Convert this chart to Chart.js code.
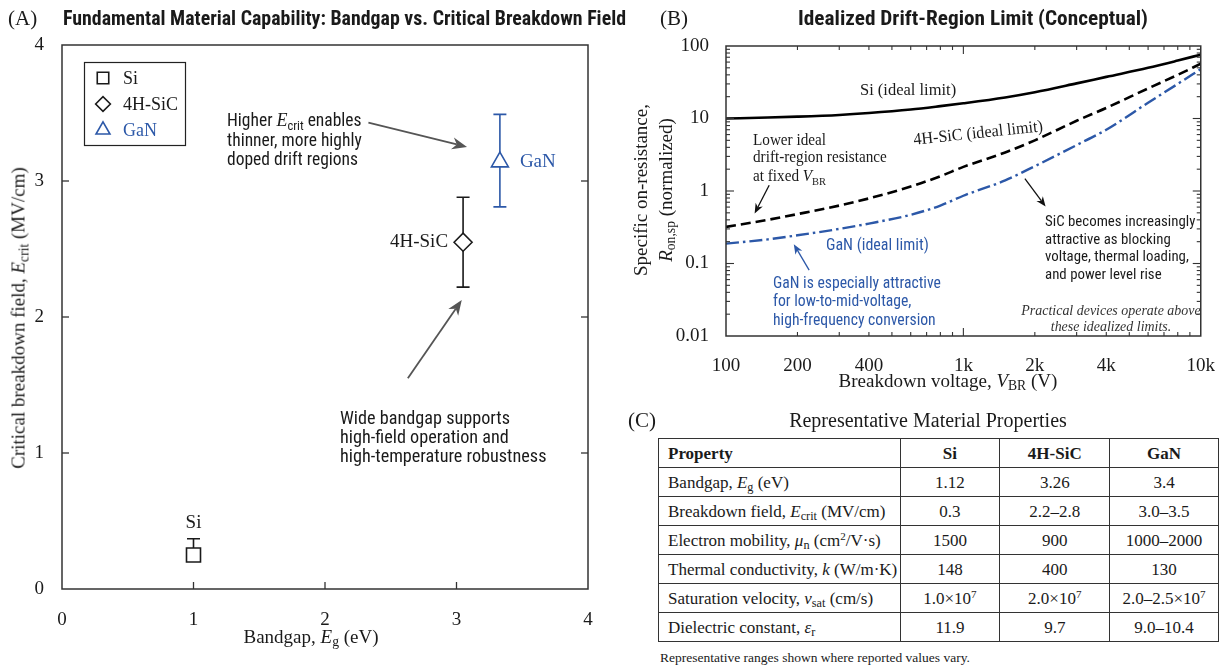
<!DOCTYPE html>
<html><head><meta charset="utf-8">
<script src="https://cdn.jsdelivr.net/npm/chart.js@4.4.1/dist/chart.umd.min.js"></script>
<style>
html,body{margin:0;padding:0;background:#fff}
body{width:1226px;height:666px;position:relative;overflow:hidden;color:#1a1a1a;font-family:"Liberation Serif","Times New Roman",serif}
.abs{position:absolute;white-space:nowrap;line-height:1}
.tt{font-family:"Liberation Sans Narrow","Roboto Condensed","Roboto",sans-serif;font-weight:bold;font-size:21px;transform-origin:left center}
.pl{font-size:21px}
.ax{font-size:19px}
.rot{transform:translate(-50%,-50%) rotate(-90deg)}
.ctr{transform:translate(-50%,-50%)}
canvas{position:absolute}
table{position:absolute;left:658px;top:438px;width:561px;border-collapse:collapse;font-size:17px;line-height:1}
tr{height:29px}
td,th{border:1.5px solid #333;padding:0;text-align:center;vertical-align:middle}
td:first-child,th:first-child{text-align:left;padding-left:9px}
sub{font-size:72%;vertical-align:-0.28em;line-height:0}
sup{font-size:65%;vertical-align:0.5em;line-height:0}
i{font-style:italic}
</style>
</head>
<body>
<canvas id="cA" width="615" height="666" style="left:0;top:0;width:615px;height:666px"></canvas>
<canvas id="cB" width="611" height="400" style="left:615px;top:0;width:611px;height:400px"></canvas>

<div class="abs pl" style="left:8px;top:8px">(A)</div>
<div class="abs tt" id="tA" data-w="563" style="left:63px;top:8px">Fundamental Material Capability: Bandgap vs. Critical Breakdown Field</div>
<div class="abs ax rot" style="left:18px;top:318px">Critical breakdown field, <i>E</i><sub>crit</sub> (MV/cm)</div>
<div class="abs ax ctr" style="left:311px;top:636px">Bandgap, <i>E</i><sub>g</sub> (eV)</div>

<div class="abs pl" style="left:660px;top:8px">(B)</div>
<div class="abs tt" id="tB" data-w="350" style="left:798px;top:8px">Idealized Drift-Region Limit (Conceptual)</div>
<div class="abs ax rot" style="left:640px;top:190px">Specific on-resistance,</div>
<div class="abs ax rot" style="left:665px;top:190px"><i>R</i><sub>on,sp</sub> (normalized)</div>
<div class="abs ax ctr" style="left:948px;top:380px">Breakdown voltage, <i>V</i><sub>BR</sub> (V)</div>

<div class="abs pl" style="left:628px;top:410px">(C)</div>
<div class="abs ctr" style="left:928px;top:420px;font-size:20px">Representative Material Properties</div>
<table id="tbl"></table>
<div class="abs" style="left:660px;top:651px;font-size:13.5px">Representative ranges shown where reported values vary.</div>

<script>
// ---------------- Panel A data ----------------
const materials = ['Si', '4H-SiC', 'GaN'];
const bandgapX  = [1.00, 3.05, 3.33];
const fieldY    = [0.25, 2.55, 3.14];
const fieldLow  = [0.22, 2.22, 2.81];
const fieldHigh = [0.37, 2.88, 3.49];
const axisATicks = [0, 1, 2, 3, 4];

// ---------------- Panel B data ----------------
const voltage = [100, 150, 200, 300, 400, 600, 800, 1000, 1500, 2000, 3000, 4000, 6000, 8000, 10000];
const ronSi   = [10.0, 10.3, 10.6, 11.2, 11.9, 13.3, 14.8, 16.2, 19.5, 23.0, 30.5, 37.5, 50.0, 63.0, 76.0];
const ronSiC  = [0.32, 0.40, 0.48, 0.63, 0.79, 1.15, 1.6, 2.15, 3.4, 5.0, 9.3, 14.0, 26, 40, 57];
const ronGaN  = [0.188, 0.215, 0.245, 0.30, 0.355, 0.47, 0.63, 0.86, 1.4, 2.2, 4.3, 7.0, 16.5, 30, 48];
const voltageTicks = [100, 200, 400, 1000, 2000, 4000, 10000];
const voltageTickLabels = ['100', '200', '400', '1k', '2k', '4k', '10k'];
const ronTicks = [0.01, 0.1, 1, 10, 100];
const ronTickLabels = ['0.01', '0.1', '1', '10', '100'];

// ---------------- Panel C data ----------------
const tableHeader = ['Property', 'Si', '4H-SiC', 'GaN'];
const tableProps = ['Bandgap, <i>E</i><sub>g</sub> (eV)', 'Breakdown field, <i>E</i><sub>crit</sub> (MV/cm)',
  'Electron mobility, <i>&mu;</i><sub>n</sub> (cm<sup>2</sup>/V&middot;s)', 'Thermal conductivity, <i>k</i> (W/m&middot;K)',
  'Saturation velocity, <i>v</i><sub>sat</sub> (cm/s)', 'Dielectric constant, <i>&epsilon;</i><sub>r</sub>'];
const tableSi  = ['1.12', '0.3', '1500', '148', '1.0&times;10<sup>7</sup>', '11.9'];
const tableSiC = ['3.26', '2.2&ndash;2.8', '900', '400', '2.0&times;10<sup>7</sup>', '9.7'];
const tableGaN = ['3.4', '3.0&ndash;3.5', '1000&ndash;2000', '130', '2.0&ndash;2.5&times;10<sup>7</sup>', '9.0&ndash;10.4'];

// ---------------- styles ----------------
const SERIF = '"Liberation Serif","Times New Roman",serif';
const SANS = '"Liberation Sans Narrow","Roboto Condensed","Roboto","Liberation Sans",sans-serif';
const BLUE = '#2c58a8';
const INK = '#1a1a1a';
const matStyle = {
  'Si': {shape: 'rect', color: INK, r: 9.9},
  '4H-SiC': {shape: 'rectRot', color: INK, r: 9},
  'GaN': {shape: 'triangle', color: BLUE, r: 9.8}
};

// table
(function () {
  const t = document.getElementById('tbl');
  let h = '<colgroup><col style="width:242px"><col style="width:100px"><col style="width:110px"><col style="width:109px"></colgroup>';
  h += '<tr>' + tableHeader.map(c => '<th>' + c + '</th>').join('') + '</tr>';
  tableProps.forEach((p, i) => {
    h += '<tr><td>' + p + '</td><td>' + tableSi[i] + '</td><td>' + tableSiC[i] + '</td><td>' + tableGaN[i] + '</td></tr>';
  });
  t.innerHTML = h;
})();

function rich(ctx, segs, x, y, align, sx) {
  sx = sx || 1;
  let w = 0;
  segs.forEach(s => { ctx.font = s.f; w += ctx.measureText(s.t).width; });
  ctx.save();
  ctx.translate(x, y);
  ctx.scale(sx, 1);
  let cx = align === 'center' ? -w / 2 : align === 'right' ? -w : 0;
  ctx.textBaseline = 'alphabetic'; ctx.textAlign = 'left';
  segs.forEach(s => { ctx.font = s.f; if (s.c) ctx.fillStyle = s.c; ctx.fillText(s.t, cx, s.dy || 0); cx += ctx.measureText(s.t).width; });
  ctx.restore();
}
function arrow(ctx, x1, y1, x2, y2, color, lw, hl, hw) {
  const a = Math.atan2(y2 - y1, x2 - x1), c = Math.cos(a), s = Math.sin(a);
  ctx.save(); ctx.strokeStyle = color; ctx.fillStyle = color; ctx.lineWidth = lw;
  ctx.beginPath(); ctx.moveTo(x1, y1); ctx.lineTo(x2 - c * hl * 0.7, y2 - s * hl * 0.7); ctx.stroke();
  ctx.beginPath(); ctx.moveTo(x2, y2);
  ctx.lineTo(x2 - hl * c + hw * s, y2 - hl * s - hw * c);
  ctx.lineTo(x2 - hl * c * 0.7, y2 - hl * s * 0.7);
  ctx.lineTo(x2 - hl * c - hw * s, y2 - hl * s + hw * c);
  ctx.closePath(); ctx.fill(); ctx.restore();
}

// frame + inward ticks
const frameTicks = {
  id: 'frameTicks',
  afterDatasetsDraw(chart, args, o) {
    const {ctx, chartArea: a, scales} = chart;
    const xs = scales.x, ys = scales.y;
    const seg = (x1, y1, x2, y2) => { ctx.beginPath(); ctx.moveTo(x1, y1); ctx.lineTo(x2, y2); ctx.stroke(); };
    ctx.save();
    ctx.strokeStyle = o.color; ctx.lineWidth = o.lw;
    ctx.strokeRect(a.left, a.top, a.right - a.left, a.bottom - a.top);
    ctx.lineWidth = o.tlw;
    const xt = (vals, len) => vals.forEach(v => { const p = xs.getPixelForValue(v);
      if (p <= a.left + 1 || p >= a.right - 1) return;
      if (o.bottom) seg(p, a.bottom, p, a.bottom - len); if (o.top) seg(p, a.top, p, a.top + len); });
    const yt = (vals, len) => vals.forEach(v => { const p = ys.getPixelForValue(v);
      if (p <= a.top + 1 || p >= a.bottom - 1) return;
      if (o.left) seg(a.left, p, a.left + len, p); if (o.right) seg(a.right, p, a.right - len, p); });
    xt(o.xMajor || [], o.len); yt(o.yMajor || [], o.len);
    xt(o.xMinor || [], o.mlen); yt(o.yMinor || [], o.mlen);
    ctx.restore();
  }
};
function logMinor(lo, hi) {
  const out = [];
  for (let d = lo; d < hi; d *= 10) for (let k = 2; k <= 9; k++) out.push(d * k);
  return out;
}
function logMajor(lo, hi) { const out = []; for (let d = lo; d <= hi * 1.0001; d *= 10) out.push(d); return out; }

// ---------- Panel A ----------
const errorBars = {
  id: 'errorBars',
  beforeDatasetsDraw(chart) {
    const {ctx, scales: {x, y}} = chart;
    ctx.save();
    materials.forEach((m, i) => {
      const st = matStyle[m];
      const px = x.getPixelForValue(bandgapX[i]);
      const lo = y.getPixelForValue(fieldLow[i]), hi = y.getPixelForValue(fieldHigh[i]);
      ctx.strokeStyle = st.color; ctx.lineWidth = 1.6;
      ctx.beginPath(); ctx.moveTo(px, lo); ctx.lineTo(px, hi);
      ctx.moveTo(px - 6.5, lo); ctx.lineTo(px + 6.5, lo);
      ctx.moveTo(px - 6.5, hi); ctx.lineTo(px + 6.5, hi); ctx.stroke();
    });
    ctx.restore();
  }
};
const annotA = {
  id: 'annotA',
  afterDatasetsDraw(chart) {
    const {ctx, scales: {x, y}} = chart;
    const P = (a, b) => [x.getPixelForValue(a), y.getPixelForValue(b)];
    ctx.save();
    // legend
    ctx.strokeStyle = '#222'; ctx.lineWidth = 1.2;
    ctx.strokeRect(84.5, 62.5, 101, 83);
    materials.forEach((m, i) => {
      const st = matStyle[m];
      const yy = 78 + i * 26;
      ctx.fillStyle = '#fff'; ctx.strokeStyle = st.color; ctx.lineWidth = 1.6;
      Chart.helpers.drawPoint(ctx, {pointStyle: st.shape, radius: st.r * 0.82, borderWidth: 1.6, rotation: 0}, 103, yy);
      ctx.fillStyle = st.color;
      ctx.font = '18px ' + SERIF; ctx.textBaseline = 'middle'; ctx.textAlign = 'left';
      ctx.fillText(m, 123, yy + 1);
    });
    // point labels
    ctx.textBaseline = 'middle';
    ctx.font = '19px ' + SERIF;
    let p = P(bandgapX[0], fieldHigh[0]);
    ctx.fillStyle = INK; ctx.textAlign = 'center'; ctx.fillText(materials[0], p[0], p[1] - 16);
    p = P(bandgapX[1], fieldY[1]);
    ctx.textAlign = 'right'; ctx.fillText(materials[1], p[0] - 15, p[1]);
    p = P(bandgapX[2], fieldY[2]);
    ctx.fillStyle = BLUE; ctx.textAlign = 'left'; ctx.fillText(materials[2], p[0] + 20, p[1]);
    // annotation texts
    ctx.fillStyle = INK;
    const f = '17.5px ' + SANS;
    rich(ctx, [{t: 'Higher ', f}, {t: 'E', f: 'italic 18px ' + SERIF}, {t: 'crit', f: '12.5px ' + SANS, dy: 4}, {t: ' enables', f}], 227, 126, 'left');
    rich(ctx, [{t: 'thinner, more highly', f}], 227, 146, 'left');
    rich(ctx, [{t: 'doped drift regions', f}], 227, 165, 'left');
    rich(ctx, [{t: 'Wide bandgap supports', f}], 340, 424, 'left', 1.04);
    rich(ctx, [{t: 'high-field operation and', f}], 340, 443, 'left', 1.04);
    rich(ctx, [{t: 'high-temperature robustness', f}], 340, 462, 'left', 1.04);
    // arrows
    let t = P(2.33, 3.43), h = P(3.08, 3.25);
    arrow(ctx, t[0], t[1], h[0], h[1], '#555', 1.8, 15, 6);
    t = P(2.63, 1.55); h = P(3.04, 2.125);
    arrow(ctx, t[0], t[1], h[0], h[1], '#555', 1.8, 15, 6);
    ctx.restore();
  }
};

new Chart(document.getElementById('cA'), {
  type: 'scatter',
  data: {
    datasets: materials.map((m, i) => ({
      label: m,
      data: [{x: bandgapX[i], y: fieldY[i]}],
      pointStyle: matStyle[m].shape,
      pointRadius: matStyle[m].r,
      pointBorderWidth: 1.6,
      borderColor: matStyle[m].color,
      backgroundColor: '#fff',
      pointBackgroundColor: '#fff'
    }))
  },
  options: {
    responsive: false, animation: false, devicePixelRatio: 1,
    layout: {padding: {left: 24, top: 45, right: 27, bottom: 0}},
    plugins: {legend: {display: false}, tooltip: {enabled: false},
      frameTicks: {color: '#333', lw: 1.5, tlw: 1.3, len: 7, mlen: 0, bottom: true, left: true, right: true, top: false,
        xMajor: axisATicks, yMajor: axisATicks}},
    scales: {
      x: {type: 'linear', min: 0, max: 4, grid: {display: false}, border: {display: false},
        afterBuildTicks: s => { s.ticks = axisATicks.map(v => ({value: v})); },
        afterFit: s => { s.height = 77; },
        ticks: {font: {family: SERIF, size: 19}, color: INK, padding: 12, maxRotation: 0}},
      y: {type: 'linear', min: 0, max: 4, grid: {display: false}, border: {display: false},
        afterBuildTicks: s => { s.ticks = axisATicks.map(v => ({value: v})); },
        afterFit: s => { s.width = 38; },
        ticks: {font: {family: SERIF, size: 19}, color: INK, padding: 10}}
    }
  },
  plugins: [errorBars, frameTicks, annotA]
});

// ---------- Panel B ----------
const annotB = {
  id: 'annotB',
  afterDatasetsDraw(chart) {
    const {ctx, scales: {x, y}} = chart;
    const P = (v, r) => [x.getPixelForValue(v), y.getPixelForValue(r)];
    const ox = -615;
    ctx.save();
    ctx.fillStyle = INK;
    const fs = '17px ' + SERIF;
    rich(ctx, [{t: 'Si (ideal limit)', f: fs}], 860 + ox, 95, 'left', 0.97);
    ctx.save(); ctx.translate(978 + ox, 132); ctx.rotate(-6 * Math.PI / 180);
    rich(ctx, [{t: '4H-SiC (ideal limit)', f: fs}], 0, 6, 'center', 0.95);
    ctx.restore();
    const fs2 = '16px ' + SERIF;
    rich(ctx, [{t: 'Lower ideal', f: fs2}], 753 + ox, 145, 'left', 0.95);
    rich(ctx, [{t: 'drift-region resistance', f: fs2}], 753 + ox, 162, 'left', 0.95);
    rich(ctx, [{t: 'at fixed ', f: fs2}, {t: 'V', f: 'italic 16px ' + SERIF}, {t: 'BR', f: '11px ' + SERIF, dy: 4}], 753 + ox, 181, 'left', 0.95);
    let t = P(152, 1.2), h = P(132, 0.49);
    arrow(ctx, t[0], t[1], h[0], h[1], '#111', 1.3, 10, 4);
    // GaN
    ctx.fillStyle = BLUE;
    const fb = '16px ' + SANS;
    rich(ctx, [{t: 'GaN (ideal limit)', f: fb}], 826 + ox, 250, 'left');
    rich(ctx, [{t: 'GaN is especially attractive', f: fb}], 773 + ox, 288, 'left', 0.98);
    rich(ctx, [{t: 'for low-to-mid-voltage,', f: fb}], 773 + ox, 306, 'left', 0.98);
    rich(ctx, [{t: 'high-frequency conversion', f: fb}], 773 + ox, 324.5, 'left', 0.98);
    t = P(224, 0.081); h = P(193, 0.185);
    arrow(ctx, t[0], t[1], h[0], h[1], BLUE, 1.3, 10, 4);
    // SiC note
    ctx.fillStyle = INK;
    const fc = '15.5px ' + SANS;
    rich(ctx, [{t: 'SiC becomes increasingly', f: fc}], 1045 + ox, 226, 'left', 0.96);
    rich(ctx, [{t: 'attractive as blocking', f: fc}], 1045 + ox, 243.5, 'left', 0.96);
    rich(ctx, [{t: 'voltage, thermal loading,', f: fc}], 1045 + ox, 261, 'left', 0.96);
    rich(ctx, [{t: 'and power level rise', f: fc}], 1045 + ox, 278.5, 'left', 0.96);
    t = P(1816, 1.48); h = P(2220, 0.61);
    arrow(ctx, t[0], t[1], h[0], h[1], '#111', 1.3, 10, 4);
    ctx.fillStyle = '#333';
    const fi = 'italic 15px ' + SERIF;
    rich(ctx, [{t: 'Practical devices operate above', f: fi}], 1111 + ox, 315, 'center', 0.93);
    rich(ctx, [{t: 'these idealized limits.', f: fi}], 1111 + ox, 331, 'center', 0.93);
    ctx.restore();
  }
};

const mk = arr => voltage.map((v, i) => ({x: v, y: arr[i]}));
new Chart(document.getElementById('cB'), {
  type: 'line',
  data: {
    datasets: [
      {label: 'Si (ideal limit)', data: mk(ronSi), borderColor: '#000', borderWidth: 2.6, pointRadius: 0, cubicInterpolationMode: 'monotone', fill: false},
      {label: '4H-SiC (ideal limit)', data: mk(ronSiC), borderColor: '#000', borderWidth: 2.6, borderDash: [10, 5], pointRadius: 0, cubicInterpolationMode: 'monotone', fill: false},
      {label: 'GaN (ideal limit)', data: mk(ronGaN), borderColor: BLUE, borderWidth: 2.4, borderDash: [13, 4, 2.5, 4], pointRadius: 0, cubicInterpolationMode: 'monotone', fill: false}
    ]
  },
  options: {
    responsive: false, animation: false, devicePixelRatio: 1,
    layout: {padding: {left: 0, top: 46, right: 17, bottom: 0}},
    plugins: {legend: {display: false}, tooltip: {enabled: false},
      frameTicks: {color: '#333', lw: 1.5, tlw: 1.1, len: 8, mlen: 4, bottom: true, top: true, left: true, right: true,
        xMajor: logMajor(voltage[0], voltage[voltage.length - 1]), xMinor: logMinor(voltage[0], voltage[voltage.length - 1]),
        yMajor: logMajor(ronTicks[0], ronTicks[ronTicks.length - 1]), yMinor: logMinor(ronTicks[0], ronTicks[ronTicks.length - 1])}},
    scales: {
      x: {type: 'logarithmic', min: voltageTicks[0], max: voltageTicks[voltageTicks.length - 1], grid: {display: false}, border: {display: false},
        afterBuildTicks: s => { s.ticks = voltageTicks.map(v => ({value: v})); },
        afterFit: s => { s.height = 64; },
        ticks: {font: {family: SERIF, size: 19}, color: INK, padding: 11, maxRotation: 0, autoSkip: false,
          callback: v => voltageTickLabels[voltageTicks.indexOf(v)]}},
      y: {type: 'logarithmic', min: ronTicks[0], max: ronTicks[ronTicks.length - 1], grid: {display: false}, border: {display: false},
        afterBuildTicks: s => { s.ticks = ronTicks.map(v => ({value: v})); },
        afterFit: s => { s.width = 111; },
        ticks: {font: {family: SERIF, size: 19}, color: INK, padding: 9, autoSkip: false,
          callback: v => ronTickLabels[ronTicks.indexOf(v)]}}
    }
  },
  plugins: [frameTicks, annotB]
});

// fit titles to width
function fitTitles() {
  document.querySelectorAll('.tt').forEach(el => {
    el.style.transform = 'none';
    const w = el.getBoundingClientRect().width;
    el.style.transform = 'scaleX(' + (parseFloat(el.dataset.w) / w) + ')';
  });
}
fitTitles();
if (document.fonts && document.fonts.ready) document.fonts.ready.then(fitTitles);
</script>
</body></html>
